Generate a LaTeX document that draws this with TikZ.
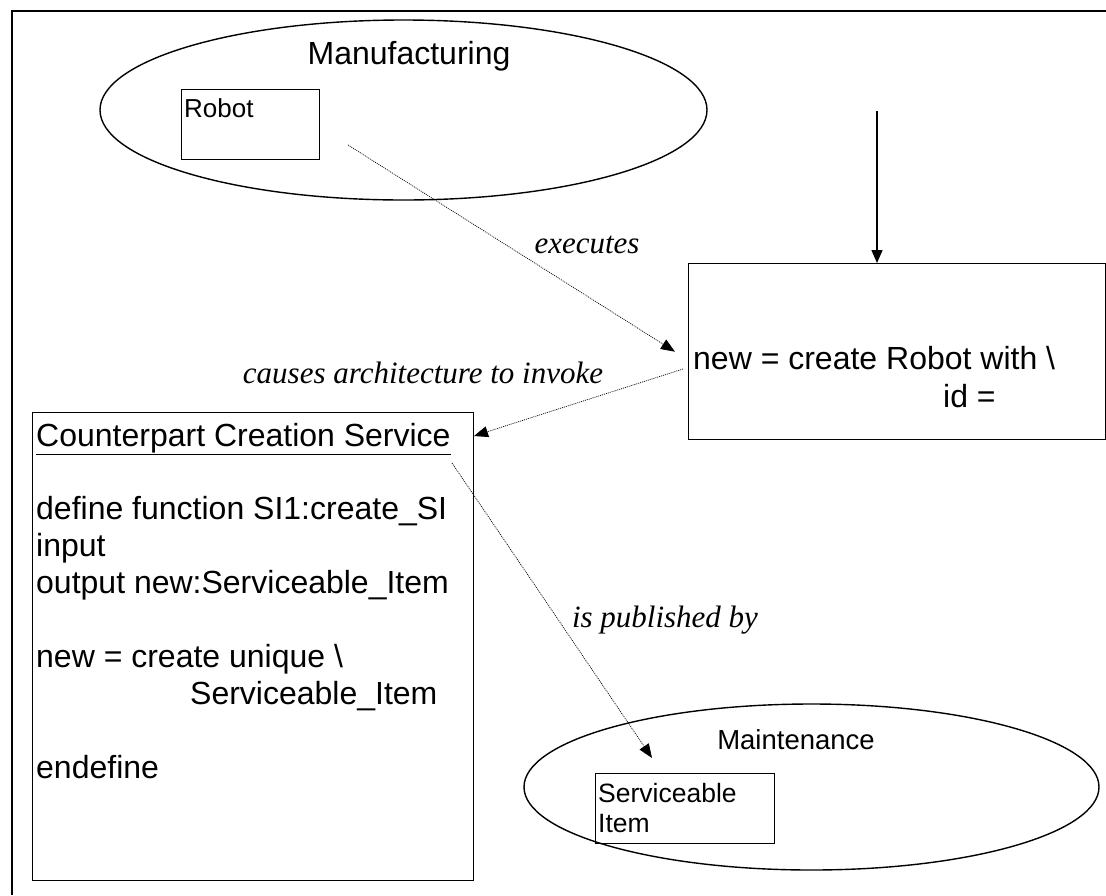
\documentclass[tikz,border=0pt]{standalone}
\usepackage{fontspec}
\setmainfont{Liberation Sans}
\newfontfamily\labelfont{Liberation Serif}
\usetikzlibrary{arrows.meta,positioning,shapes.geometric}

\begin{document}
\begin{tikzpicture}[
  x=1pt, y=-1pt,
  box/.style={draw, line width=1.4pt, inner sep=0pt, anchor=north west},
  area/.style={draw, ellipse, line width=1.4pt, inner sep=0pt},
  txt/.style={anchor=base west, inner sep=0pt},
  rel/.style={-{Triangle[length=14pt,width=11pt]}, line width=0.7pt, dash pattern=on 1pt off 1pt},
  flow/.style={-{Triangle[length=13pt,width=11pt]}, line width=1.5pt},
  lbl/.style={font=\fontsize{31}{36}\selectfont\labelfont\itshape, inner sep=0pt, anchor=base}
]
  \useasboundingbox (0,0) rectangle (1106,895);
  \draw[line width=2pt] (1106,11) -- (12,11) -- (12,895);

  % domains
  \node[area, minimum width=607pt, minimum height=180pt] (mfg) at (403.5,110) {};
  \node[anchor=base, inner sep=0pt, font=\fontsize{32}{38}\selectfont] (mfgname) at (409,64) {Manufacturing};
  \node[box, minimum width=138pt, minimum height=70pt] (robot) at (181,89) {};
  \node[txt, font=\fontsize{26}{31}\selectfont] (robottxt) at (184,117) {Robot};

  \node[area, minimum width=575pt, minimum height=166pt] (mnt) at (811.5,787) {};
  \node[anchor=base, inner sep=0pt, font=\fontsize{27.5}{32}\selectfont] (mntname) at (796,749) {Maintenance};
  \node[box, minimum width=179pt, minimum height=70pt] (si) at (595,773) {};
  \node[txt, font=\fontsize{26.5}{30}\selectfont] (sitxt) at (598,802)
    {\begin{tabular}[t]{@{}l@{}}Serviceable\\Item\end{tabular}};

  % statement boxes
  \node[box, minimum width=417pt, minimum height=176pt] (create) at (688,263) {};
  \node[txt, font=\fontsize{32}{38}\selectfont] (createtxt) at (693,369)
    {\begin{tabular}[t]{@{}l@{}}new = create Robot with \textbackslash\\
     \hspace*{250pt}id =\end{tabular}};

  \node[box, minimum width=441pt, minimum height=468pt] (ccs) at (32,412) {};
  \node[txt, font=\fontsize{32}{36.9}\selectfont] (ccstxt) at (36,446)
    {\begin{tabular}[t]{@{}l@{}}\underline{Counterpart Creation Service}\\
     \\
     define function SI1:create\_SI\\
     input\\
     output new:Serviceable\_Item\\
     \\
     new = create unique \textbackslash\\
     \hspace*{154pt}Serviceable\_Item\\
     \\
     endefine\end{tabular}};

  % connectors
  \coordinate (exe-s) at (348,145);
  \coordinate (inv-s) at (683,369);
  \coordinate (inv-e) at (474,436);
  \coordinate (pub-s) at (452,463);
  \coordinate (pub-e) at (652,758);
  \coordinate (top-in) at (877,111);

  \draw[flow] (top-in) -- (top-in |- create.north);
  \draw[rel] (exe-s) -- ([xshift=-13pt]create.west);
  \draw[rel] (inv-s) -- (inv-e);
  \draw[rel] (pub-s) -- (pub-e);

  \node[lbl] (exelbl) at (587,253) {executes};
  \node[lbl] (invlbl) at (423,383) {causes architecture to invoke};
  \node[lbl] (publbl) at (665,627) {is published by};
\end{tikzpicture}
\end{document}
